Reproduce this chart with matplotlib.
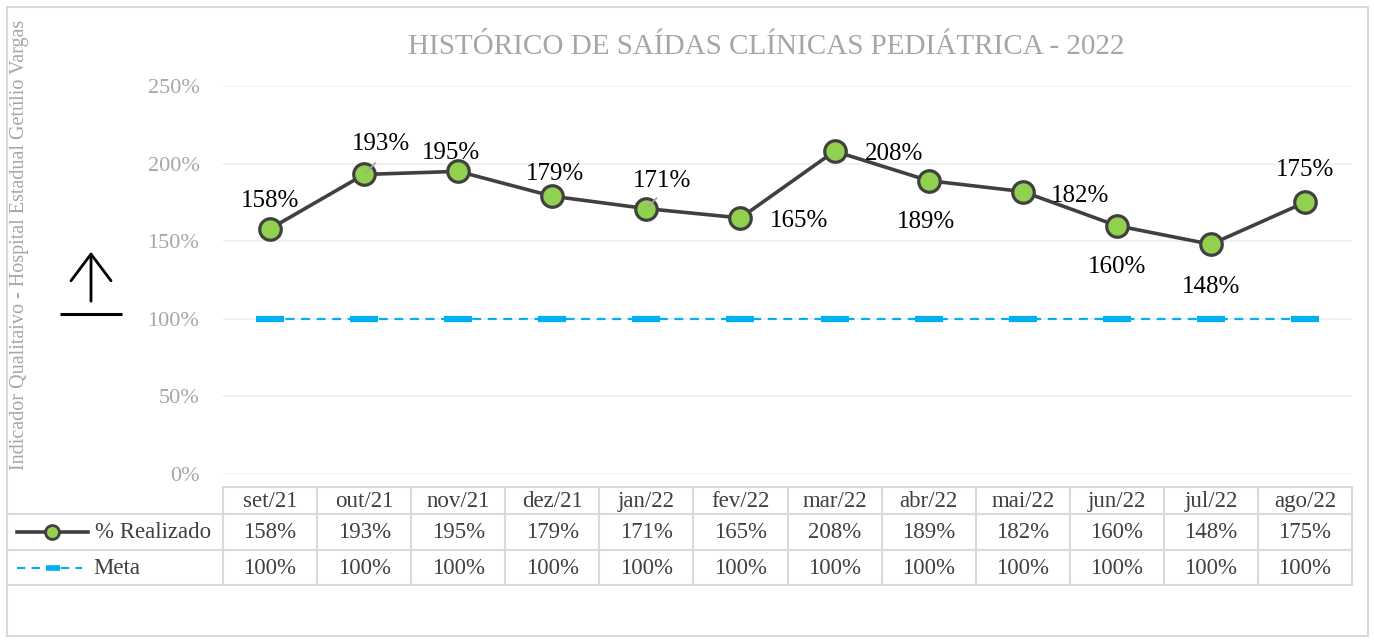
import matplotlib
matplotlib.use("Agg")
import matplotlib.pyplot as plt
from matplotlib.patches import Rectangle, FancyArrowPatch

# ---- data ----
months = ["set/21", "out/21", "nov/21", "dez/21", "jan/22", "fev/22",
          "mar/22", "abr/22", "mai/22", "jun/22", "jul/22", "ago/22"]
realizado = [1.58, 1.93, 1.95, 1.79, 1.71, 1.65, 2.08, 1.89, 1.82, 1.60, 1.48, 1.75]
meta = [1.00] * 12
yticks = [0, 0.5, 1.0, 1.5, 2.0, 2.5]
title = "HISTÓRICO DE SAÍDAS CLÍNICAS PEDIÁTRICA - 2022"
ylabel = "Indicador Qualitaivo - Hospital Estadual Getúlio Vargas"
# label offsets (points) relative to each marker
label_off = [(0, 20), (12, 22), (-5, 13), (2, 16), (11, 20), (42, -2),
             (43, -2), (-2, -30), (41, -3), (0, -30), (0, -31), (0, 23)]
leaders = [1, 4]

W, H = 1374, 643
plt.rcParams['font.family'] = ['Liberation Serif', 'DejaVu Serif']
fig = plt.figure(figsize=(W / 100, H / 100), dpi=100)

def fx(px):
    return px / W

def fy(py):
    return 1 - py / H

# overlay axes in pixel coords
ov = fig.add_axes([0, 0, 1, 1])
ov.set_xlim(0, W)
ov.set_ylim(H, 0)
ov.axis('off')

# outer border
ov.add_patch(Rectangle((7, 7), 1361, 629, fill=False, ec='#D9D9D9', lw=1.5))

L, R, T, B = 223, 1352, 86, 474
ax = fig.add_axes([fx(L), fy(B), fx(R) - fx(L), fy(T) - fy(B)])
ax.set_xlim(-0.5, len(months) - 0.5)
ax.set_ylim(0, 2.5)
for s in ax.spines.values():
    s.set_visible(False)
ax.set_yticks(yticks)
ax.set_yticklabels([f"{int(round(v*100))}%" for v in yticks],
                   fontsize=16, color='#A6A6A6')
ax.tick_params(axis='y', length=0, pad=17)
ax.set_xticks([])
ax.grid(axis='y', color='#EEEEEE', lw=1.2)
ax.set_axisbelow(True)

x = list(range(len(months)))
ax.plot(x, meta, color='#00B0F0', lw=1.6, ls=(0, (4, 3)), zorder=2)
ax.plot(x, meta, ls='none', marker='_', ms=20, mew=4.5, color='#00B0F0', zorder=3)
ax.plot(x, realizado, color='#404040', lw=2.6, marker='o', ms=15.5,
        mfc='#92D050', mec='#404040', mew=2.3, zorder=4)

for i, v in enumerate(realizado):
    dx, dy = label_off[i]
    ax.annotate(f"{int(round(v*100))}%", (i, v), xytext=(dx, dy),
                textcoords='offset points', ha='center', va='center',
                fontsize=18, color='black', zorder=5)
    if i in leaders:
        ax.annotate("", (i, v), xytext=(dx * 0.8, dy * 0.45), textcoords='offset points',
                    arrowprops=dict(arrowstyle='-', color='#A6A6A6', lw=1.2), zorder=5)

# title
fig.text(fx(766), fy(47), title, ha='center', va='center',
         fontsize=21, color='#A6A6A6')
# y label
fig.text(fx(20), fy(245), ylabel, rotation=90, ha='center', va='center',
         fontsize=14.5, color='#A6A6A6')

# arrow symbol
ov.add_patch(FancyArrowPatch((91, 304), (91, 249), arrowstyle='->,head_length=8,head_width=6',
                             color='black', lw=2, mutation_scale=2.4))
ov.plot([60, 122], [314, 314], color='black', lw=2.2, solid_capstyle='butt')

# data table
fig.canvas.draw()
def colx(xv):
    return ax.transData.transform((xv, 0))[0]

gc = '#D9D9D9'
r0, r1, r2, r3 = 487, 514, 550, 585
lw = 1.5
ov.plot([L, R], [r0, r0], color=gc, lw=lw)
for yy in (r1, r2, r3):
    ov.plot([7, R], [yy, yy], color=gc, lw=lw)
for i in range(len(months) + 1):
    xx = colx(i - 0.5)
    ov.plot([xx, xx], [r0, r3], color=gc, lw=lw)

tc = '#404040'
fs = 16.5
for i, m in enumerate(months):
    cx = colx(i)
    ov.text(cx, (r0 + r1) / 2 + 1, m, ha='center', va='center', fontsize=fs, color=tc)
    ov.text(cx, (r1 + r2) / 2 + 1, f"{int(round(realizado[i]*100))}%", ha='center',
            va='center', fontsize=fs, color=tc)
    ov.text(cx, (r2 + r3) / 2 + 1, f"{int(round(meta[i]*100))}%", ha='center',
            va='center', fontsize=fs, color=tc)

# legend keys
ly1 = (r1 + r2) / 2
ov.plot([17, 88], [ly1, ly1], color='#404040', lw=2.6)
ov.plot([52], [ly1], marker='o', ms=10, mfc='#92D050', mec='#404040', mew=2)
ov.text(95, ly1 + 1, "% Realizado", ha='left', va='center', fontsize=fs, color=tc)
ly2 = (r2 + r3) / 2
ov.plot([17, 82], [ly2, ly2], color='#00B0F0', lw=1.5, ls=(0, (4, 3)))
ov.plot([46, 60], [ly2, ly2], color='#00B0F0', lw=4, solid_capstyle='butt')
ov.text(93, ly2 + 1, "Meta", ha='left', va='center', fontsize=fs, color=tc)

fig.savefig("out.png", dpi=100)
